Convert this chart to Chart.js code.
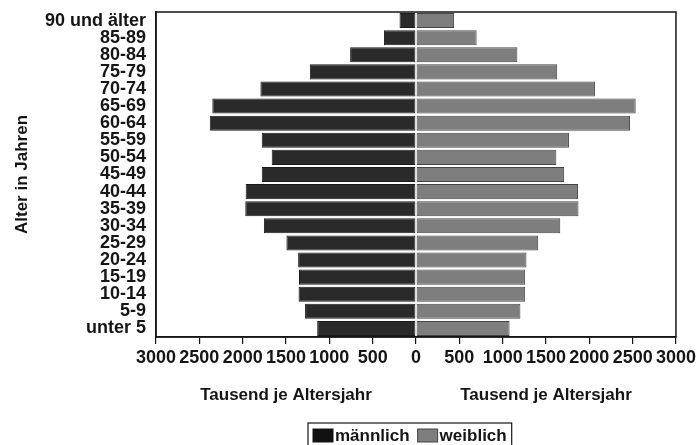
<!DOCTYPE html>
<html lang="de">
<head>
<meta charset="UTF-8">
<title>Altersaufbau der Bevölkerung</title>
<script src="https://cdn.jsdelivr.net/npm/chart.js"></script>
<style>
  html, body { margin: 0; padding: 0; background: #fff; }
</style>
</head>
<body>
<canvas id="pyramid" width="699" height="445"></canvas>
<script>
// age groups, youngest first (axis is reversed so "unter 5" sits at the bottom)
const ageGroups = ['unter 5', '5-9', '10-14', '15-19', '20-24', '25-29', '30-34', '35-39',
  '40-44', '45-49', '50-54', '55-59', '60-64', '65-69', '70-74', '75-79', '80-84', '85-89', '90 und älter'];
// Tausend je Altersjahr
const maleValues = [1140, 1280, 1355, 1350, 1360, 1495, 1755, 1970, 1965, 1780, 1665, 1780, 2380, 2350, 1795, 1225, 760, 370, 190];
const femaleValues = [1080, 1205, 1260, 1260, 1275, 1410, 1665, 1875, 1870, 1710, 1620, 1765, 2470, 2535, 2065, 1630, 1170, 700, 440];
const seriesNames = ['männlich', 'weiblich'];
const axisTitleX = 'Tausend je Altersjahr';
const axisTitleY = 'Alter in Jahren';

const FONT = '"Liberation Sans", Arial, sans-serif';
const INK = '#151515';
const maleColor = '#2a2a2a';
const femaleColor = '#7e7e7e';

// frame, the two x titles and the boxed legend
const extras = {
  id: 'extras',
  afterDraw(chart) {
    const { ctx, chartArea: a, scales: { x } } = chart;
    ctx.save();
    ctx.strokeStyle = INK;
    ctx.lineWidth = 1.5;
    ctx.strokeRect(a.left, a.top, a.right - a.left, a.bottom - a.top);

    ctx.font = 'bold 17px ' + FONT;
    ctx.fillStyle = INK;
    ctx.textAlign = 'center';
    ctx.textBaseline = 'middle';
    ctx.fillText(axisTitleX, x.getPixelForValue(-1500), 395);
    ctx.fillText(axisTitleX, x.getPixelForValue(1500), 395);

    // legend
    const sq = 20, gap = 2, pad = 5, between = 8;
    const w0 = ctx.measureText(seriesNames[0]).width;
    const w1 = ctx.measureText(seriesNames[1]).width;
    const total = pad + sq + gap + w0 + between + sq + gap + w1 + pad;
    const cx = (a.left + a.right) / 2 - 6;
    const bx = Math.round(cx - total / 2);
    const by = 423;
    ctx.lineWidth = 1.2;
    ctx.strokeRect(bx, by, total, 30);
    ctx.textAlign = 'left';
    let px = bx + pad;
    const colors = [maleColor, femaleColor];
    [w0, w1].forEach((w, i) => {
      ctx.fillStyle = i ? colors[i] : '#111';
      ctx.fillRect(px, 429, sq, 13);
      ctx.strokeStyle = i ? '#444' : INK;
      ctx.lineWidth = 1;
      ctx.strokeRect(px, 429, sq, 13);
      ctx.fillStyle = INK;
      ctx.fillText(seriesNames[i], px + sq + gap, 436);
      px += sq + gap + w + between;
    });
    ctx.restore();
  }
};

new Chart(document.getElementById('pyramid'), {
  type: 'bar',
  data: {
    labels: ageGroups,
    datasets: [{
      label: seriesNames[0],
      data: maleValues.map(v => -v),
      backgroundColor: maleColor,
      borderColor: '#1a1a1a',
      borderWidth: 1,
      borderSkipped: false,
      barPercentage: 0.88,
      categoryPercentage: 1
    }, {
      label: seriesNames[1],
      data: femaleValues,
      backgroundColor: femaleColor,
      borderColor: '#454545',
      borderWidth: 1,
      borderSkipped: false,
      barPercentage: 0.88,
      categoryPercentage: 1
    }]
  },
  options: {
    indexAxis: 'y',
    responsive: false,
    animation: false,
    layout: { padding: { top: 12, right: 23, left: 0, bottom: 0 } },
    plugins: {
      legend: { display: false },
      tooltip: { enabled: false }
    },
    scales: {
      x: {
        stacked: true,
        min: -3000,
        max: 3000,
        border: { color: INK, width: 1.5 },
        grid: { drawOnChartArea: false, drawTicks: true, tickLength: 7, color: INK, lineWidth: 1.2 },
        ticks: {
          stepSize: 500,
          autoSkip: false,
          maxRotation: 0,
          padding: 3,
          color: INK,
          font: { family: FONT, size: 18, weight: 'bold' },
          callback: v => Math.abs(v)
        },
        afterFit: s => { s.height = 445 - 337; }
      },
      y: {
        stacked: true,
        reverse: true,
        border: { color: INK, width: 1.5 },
        grid: { display: false, drawTicks: false },
        ticks: {
          autoSkip: false,
          padding: 10,
          color: INK,
          font: { family: FONT, size: 18, weight: 'bold' }
        },
        title: {
          display: true,
          text: axisTitleY,
          color: INK,
          padding: { top: 12, bottom: 0 },
          font: { family: FONT, size: 17, weight: 'bold' }
        },
        afterFit: s => {
          s.width = 156;
          s.paddingTop = 0;
          s.paddingBottom = 0;
        }
      }
    }
  },
  plugins: [extras]
});
</script>
</body>
</html>
